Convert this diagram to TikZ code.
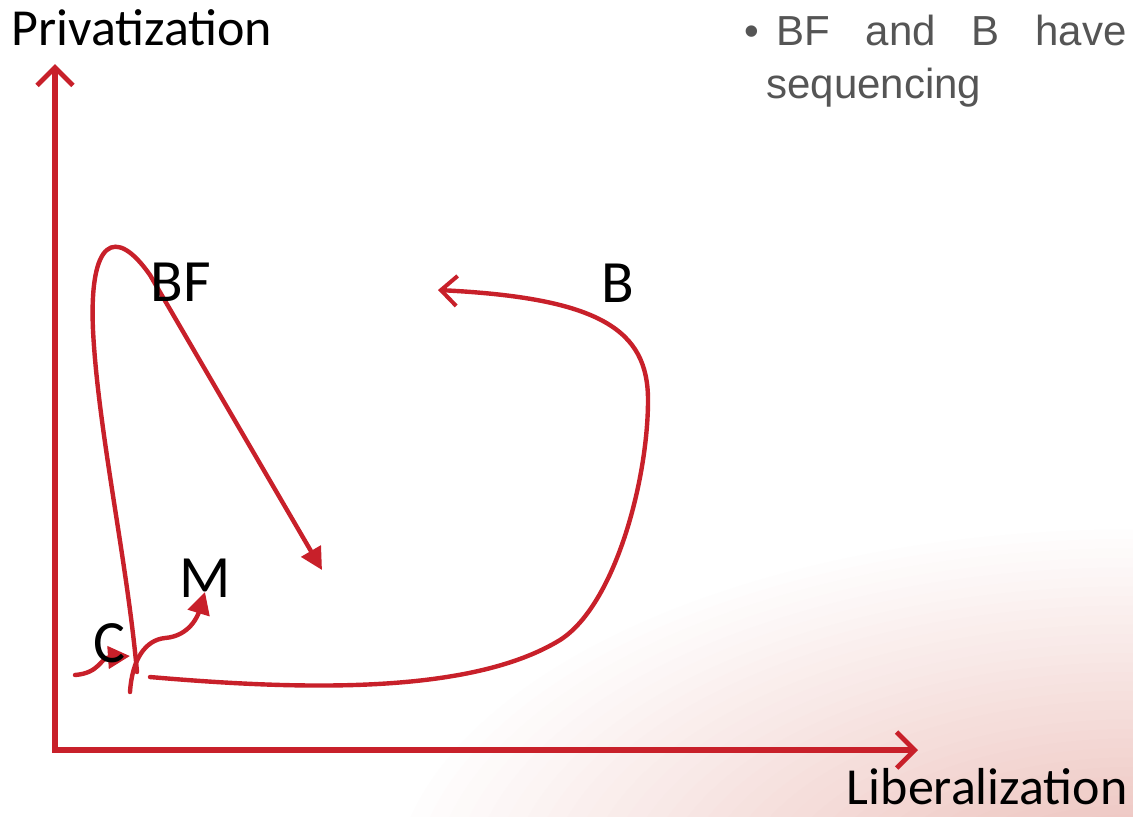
\documentclass[tikz,border=0pt]{standalone}
\usepackage{fontspec}
\setmainfont{Carlito}
\newfontfamily\notefont{Liberation Sans}
\usetikzlibrary{arrows.meta, positioning}

\definecolor{lineRed}{RGB}{200,32,42}
\definecolor{bgPink}{RGB}{234,186,180}
\definecolor{noteGray}{RGB}{85,85,85}

\begin{document}
\begin{tikzpicture}[
    x=0.5pt, y=-0.5pt,
    axis/.style={draw=lineRed, line width=3pt, {Straight Barb[length=9pt, width=18pt, line width=2.4pt]}-{Straight Barb[length=9pt, width=18pt, line width=2.4pt]}},
    curve/.style={draw=lineRed, line width=2.2pt, line cap=round},
    barb/.style={-{Straight Barb[length=8pt, width=15pt, line width=2pt]}},
    tri/.style={-{Triangle[length=11pt, width=11pt]}},
    axislabel/.style={font=\fontsize{26}{30}\selectfont, inner sep=0pt},
    lbl/.style={font=\fontsize{30}{34}\selectfont, inner sep=0pt},
    note/.style={font=\notefont\fontsize{21}{25}\selectfont, text=noteGray, inner sep=0pt}
]
\useasboundingbox (0,0) rectangle (1133,816);

% background
\fill[white] (0,0) rectangle (1133,816);
\begin{scope}
  \clip (0,0) rectangle (1133,816);
  \foreach \i in {40,39,...,1}{
    \pgfmathsetmacro{\mix}{100*(1-\i/40)}
    \fill[bgPink!\mix!white] (1133,900) ellipse [x radius=19*\i, y radius=9.5*\i];
  }
\end{scope}

% axes
\coordinate (origin) at (55,750);
\coordinate (ytop) at (55,64);
\coordinate (xend) at (918,750);
\draw[axis] (ytop) -- (origin) -- (xend);
\node[axislabel, anchor=base west] (privat) at (11,45) {Privatization};
\node[axislabel, anchor=base east] (liberal) at (1128,804) {Liberalization};

% paths
\draw[curve, tri] (137,672) .. controls (127,560) and (98,430) .. (93,330)
    .. controls (89,240) and (115,225) .. (150,275) -- (322,570);
\draw[curve, tri] (130,692) .. controls (132,660) and (145,640) .. (165,638)
    .. controls (190,636) and (198,615) .. (205,592);
\draw[curve, tri] (75,675) .. controls (100,673) and (100,658) .. (130,656);
\draw[curve, barb] (150,677) .. controls (300,690) and (470,695) .. (560,640)
    .. controls (615,605) and (648,480) .. (648,400)
    .. controls (648,330) and (600,298) .. (438,290);

% labels
\node[lbl, anchor=base west] (bf) at (150,301) {BF};
\node[lbl, anchor=base west] (b) at (601,302) {B};
\node[lbl, anchor=base west] (m) at (179,597) {M};
\node[lbl, anchor=base west] (c) at (93,662) {C};

% note
\node[note, anchor=base west] (bullet) at (744,45) {\textbullet};
\node[note, anchor=base west] (line1) at (776,45) {\makebox[175pt][s]{BF\hfill and\hfill B\hfill have}};
\node[note, anchor=base west] (line2) at (766,98) {sequencing};
\end{tikzpicture}
\end{document}
